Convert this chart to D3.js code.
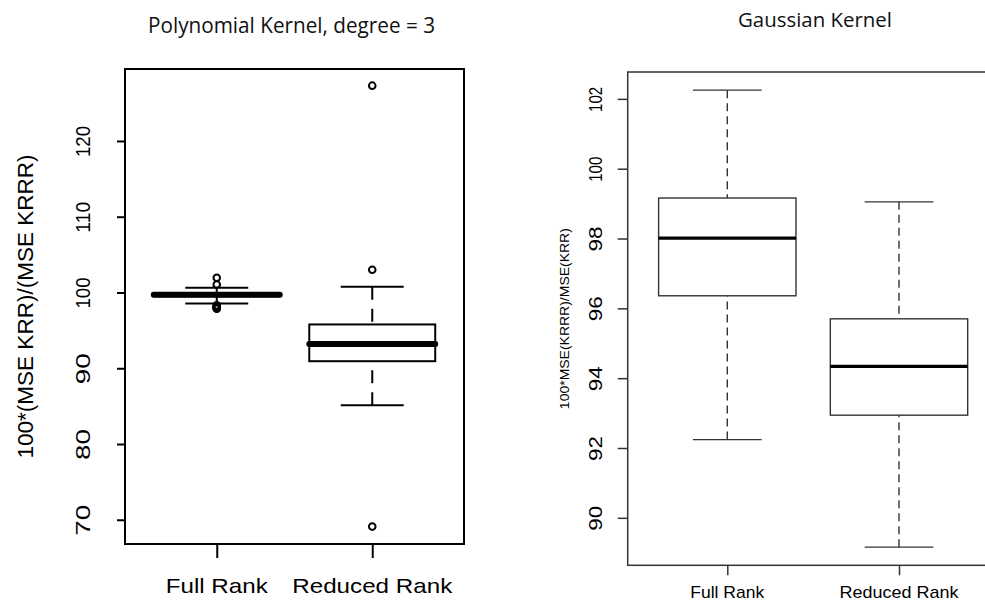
<!DOCTYPE html>
<html>
<head>
<meta charset="utf-8">
<script src="https://cdn.jsdelivr.net/npm/d3@7"></script>
<style>
  body { margin: 0; background: #fff; }
  svg { display: block; }
</style>
</head>
<body>
<svg id="chart" width="985" height="603"></svg>
<script>
// categories shared by both panels
const categories = ["Full Rank", "Reduced Rank"];

// Polynomial kernel (degree 3) box stats
const polyLower  = [98.55, 85.1];
const polyQ1     = [99.5, 90.93];
const polyMedian = [99.7, 93.2];
const polyQ3     = [99.9, 95.78];
const polyUpper  = [100.62, 100.75];
const polyOutliers = [[101.94, 101.06, 98.3, 98.22, 98.15, 98.08, 98.0, 97.93, 97.85], [127.3, 103.0, 69.1]];
const polyTicks = [70, 80, 90, 100, 110, 120];

// Gaussian kernel box stats
const gaussLower  = [92.24, 89.16];
const gaussQ1     = [96.36, 92.94];
const gaussMedian = [98.01, 94.34];
const gaussQ3     = [99.16, 95.70];
const gaussUpper  = [102.25, 99.05];
const gaussTicks = [90, 92, 94, 96, 98, 100, 102];

const svg = d3.select("#chart");

// stretch a text node to a given length (reference image is slightly distorted)
function fit(sel, len) {
  sel.attr("textLength", len).attr("lengthAdjust", "spacingAndGlyphs");
  return sel;
}

function drawPanel(cfg) {
  const g = svg.append("g");
  const x = d3.scalePoint().domain(categories).range([cfg.left, cfg.right]).padding(cfg.pad);
  const y = d3.scaleLinear().domain(cfg.yDomain).range([cfg.bottom, cfg.top]);
  const step = x.step();
  const boxW = step * cfg.boxFrac;
  const capW = boxW / 2;

  const rows = categories.map((c, i) => ({
    cat: c, lo: cfg.lower[i], q1: cfg.q1[i], med: cfg.median[i], q3: cfg.q3[i], hi: cfg.upper[i],
    out: cfg.outliers ? cfg.outliers[i] : []
  }));

  const box = g.selectAll(".box").data(rows).join("g").attr("class", "box");

  // whiskers (dashed), drawn from whisker end toward the box
  box.append("line")
    .attr("x1", d => x(d.cat)).attr("x2", d => x(d.cat))
    .attr("y1", d => y(d.hi)).attr("y2", d => y(d.q3))
    .attr("stroke", cfg.color).attr("stroke-width", cfg.lw).attr("stroke-dasharray", cfg.dash);
  box.append("line")
    .attr("x1", d => x(d.cat)).attr("x2", d => x(d.cat))
    .attr("y1", d => y(d.lo)).attr("y2", d => y(d.q1))
    .attr("stroke", cfg.color).attr("stroke-width", cfg.lw).attr("stroke-dasharray", cfg.dash);

  // caps
  ["hi", "lo"].forEach(k => {
    box.append("line")
      .attr("x1", d => x(d.cat) - capW / 2).attr("x2", d => x(d.cat) + capW / 2)
      .attr("y1", d => y(d[k])).attr("y2", d => y(d[k]))
      .attr("stroke", cfg.color).attr("stroke-width", cfg.lw);
  });

  // box
  box.append("rect")
    .attr("x", d => x(d.cat) - boxW / 2).attr("width", boxW)
    .attr("y", d => y(d.q3)).attr("height", d => y(d.q1) - y(d.q3))
    .attr("fill", "#fff").attr("stroke", cfg.color).attr("stroke-width", cfg.lw);

  // median
  box.append("line")
    .attr("x1", d => x(d.cat) - boxW / 2).attr("x2", d => x(d.cat) + boxW / 2)
    .attr("y1", d => y(d.med)).attr("y2", d => y(d.med))
    .attr("stroke", "#000").attr("stroke-width", cfg.medLw).attr("stroke-linecap", cfg.medCap);

  // outliers (open circles, like pch = 1)
  box.selectAll("circle").data(d => d.out.map(v => ({ cat: d.cat, v })))
    .join("circle")
    .attr("cx", d => x(d.cat)).attr("cy", d => y(d.v)).attr("r", 3.3)
    .attr("fill", "none").attr("stroke", "#000").attr("stroke-width", 2);

  // frame
  g.append("rect")
    .attr("x", cfg.left).attr("y", cfg.top)
    .attr("width", cfg.right - cfg.left).attr("height", cfg.bottom - cfg.top)
    .attr("fill", "none").attr("stroke", cfg.frameColor).attr("stroke-width", cfg.frameLw);

  // y axis
  const yAxis = g.append("g")
    .attr("transform", `translate(${cfg.left},0)`)
    .call(d3.axisLeft(y).tickValues(cfg.ticks).tickSize(cfg.tickLen).tickFormat(d3.format("d")));
  yAxis.select(".domain").remove();
  yAxis.selectAll(".tick line").attr("stroke", cfg.frameColor).attr("stroke-width", cfg.frameLw);
  yAxis.selectAll(".tick text")
    .attr("x", null).attr("dy", null)
    .attr("transform", `translate(${cfg.yLabelBase - cfg.left},0) rotate(-90)`)
    .attr("text-anchor", "middle")
    .attr("font-family", "Liberation Sans, Arial, sans-serif")
    .attr("font-size", cfg.yTickSize)
    .attr("fill", "#000")
    .each(function () { fit(d3.select(this), cfg.yTickLen); });

  // x axis
  const xAxis = g.append("g")
    .attr("transform", `translate(0,${cfg.bottom})`)
    .call(d3.axisBottom(x).tickSize(cfg.xTickLen).tickFormat(""));
  xAxis.select(".domain").remove();
  xAxis.selectAll(".tick line").attr("stroke", cfg.frameColor).attr("stroke-width", cfg.frameLw);

  g.selectAll(".xlab").data(categories).join("text")
    .attr("class", "xlab")
    .attr("x", d => x(d)).attr("y", cfg.xLabelBase)
    .attr("text-anchor", "middle")
    .attr("font-family", "Liberation Sans, Arial, sans-serif")
    .attr("font-size", cfg.xLabSize)
    .attr("fill", "#000")
    .text(d => d)
    .each(function (d, i) { fit(d3.select(this), cfg.xLabLen[i]); });

  // y title
  fit(g.append("text")
    .attr("transform", `translate(${cfg.yTitleBase},${(cfg.top + cfg.bottom) / 2}) rotate(-90)`)
    .attr("text-anchor", "middle")
    .attr("font-family", "Liberation Sans, Arial, sans-serif")
    .attr("font-size", cfg.yTitleSize)
    .attr("fill", "#000")
    .text(cfg.yTitle), cfg.yTitleLen);

  // main title
  fit(g.append("text")
    .attr("x", cfg.titleX).attr("y", cfg.titleY)
    .attr("text-anchor", "middle")
    .attr("font-family", "Open Sans, Noto Sans, sans-serif")
    .attr("font-size", cfg.titleSize)
    .attr("fill", "#111")
    .text(cfg.title), cfg.titleLen);
}

drawPanel({
  left: 125, right: 464, top: 69, bottom: 544, pad: 0.59,
  yDomain: [66.8, 129.5], ticks: polyTicks,
  lower: polyLower, q1: polyQ1, median: polyMedian, q3: polyQ3, upper: polyUpper, outliers: polyOutliers,
  boxFrac: 0.81, color: "#000", lw: 2, dash: "13,9", medLw: 6, medCap: "round",
  frameColor: "#000", frameLw: 2, tickLen: 8, xTickLen: 14,
  yLabelBase: 90, yTickSize: 20, yTickLen: 31,
  xLabelBase: 593, xLabSize: 21, xLabLen: [102, 160],
  yTitle: "100*(MSE KRR)/(MSE KRRR)", yTitleBase: 33, yTitleSize: 22, yTitleLen: 304,
  title: "Polynomial Kernel, degree = 3", titleX: 291.5, titleY: 33, titleSize: 22, titleLen: 287
});

drawPanel({
  left: 627.7, right: 998.6, top: 72, bottom: 565.3, pad: 0.58,
  yDomain: [88.64, 102.77], ticks: gaussTicks,
  lower: gaussLower, q1: gaussQ1, median: gaussMedian, q3: gaussQ3, upper: gaussUpper, outliers: null,
  boxFrac: 0.8, color: "#333", lw: 1.4, dash: "8,5", medLw: 3.2, medCap: "butt",
  frameColor: "#333", frameLw: 1.5, tickLen: 10, xTickLen: 10,
  yLabelBase: 602, yTickSize: 18, yTickLen: 25,
  xLabelBase: 598, xLabSize: 17, xLabLen: [74, 119],
  yTitle: "100*MSE(KRRR)/MSE(KRR)", yTitleBase: 569, yTitleSize: 13, yTitleLen: 181,
  title: "Gaussian Kernel", titleX: 815, titleY: 27, titleSize: 20, titleLen: 154
});
</script>
</body>
</html>
